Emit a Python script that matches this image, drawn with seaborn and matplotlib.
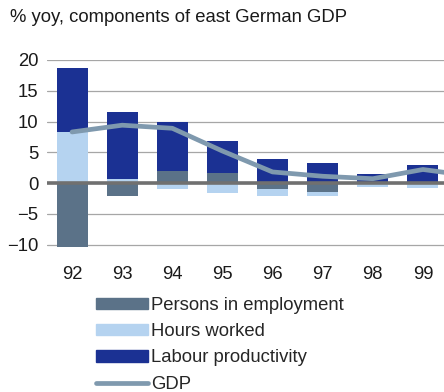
import numpy as np
import pandas as pd
import matplotlib
matplotlib.use("Agg")
import matplotlib.pyplot as plt
import seaborn as sns
from matplotlib.patches import Patch
from matplotlib.lines import Line2D

years = ["92", "93", "94", "95", "96", "97", "98", "99", "00"]
persons = [-10.4, -2.1, 2.0, 1.7, -0.9, -1.4, 0.0, 0.2, np.nan]
hours = [8.3, 0.6, -1.0, -1.6, -1.2, -0.7, -0.7, -0.8, np.nan]
productivity = [10.4, 10.9, 7.9, 5.1, 3.9, 3.2, 1.4, 2.8, np.nan]
gdp = [8.3, 9.4, 8.9, 5.2, 1.8, 1.1, 0.7, 2.2, 1.1]

labels = ["Persons in employment", "Hours worked", "Labour productivity", "GDP"]
c_persons = "#5B7288"
c_hours = "#B5D3F0"
c_prod = "#1B3193"
c_gdp = "#7F99AE"

sns.set_theme(style="white")
plt.rcParams["font.family"] = ["Liberation Sans", "DejaVu Sans"]

df = pd.DataFrame({"year": years, "p": persons, "h": hours, "lp": productivity, "gdp": gdp})
p_pos = df["p"].clip(lower=0)
p_neg = df["p"].clip(upper=0)
h_pos = df["h"].clip(lower=0)
h_neg = df["h"].clip(upper=0)
df["top_lp"] = p_pos + h_pos + df["lp"].clip(lower=0)
df["top_h"] = p_pos + h_pos
df["top_p"] = p_pos
df["bot_h"] = p_neg + h_neg
df["bot_p"] = p_neg

fs = 13.3
fig = plt.figure(figsize=(4.44, 3.92), dpi=100)
ax = fig.add_axes([47 / 444, 1 - 247.6 / 392, 1 - 47 / 444, (247.6 - 60) / 392])

w = 0.62
for col, color in [("top_lp", c_prod), ("top_h", c_hours), ("top_p", c_persons),
                   ("bot_h", c_hours), ("bot_p", c_persons)]:
    sns.barplot(data=df, x="year", y=col, order=years, color=color, width=w,
                saturation=1, ax=ax, zorder=3, linewidth=0)

ax.axhline(0, color="#707070", lw=2.6, zorder=4)
sns.lineplot(x=np.arange(len(years)), y=df["gdp"], sort=False, color=c_gdp,
             lw=3.4, ax=ax, zorder=5, solid_capstyle="round")

ax.set_xlim(-0.5, 7.42)
ax.set_ylim(-10.5, 20)
ax.set_yticks([-10, -5, 0, 5, 10, 15, 20])
ax.yaxis.grid(True, color="#A6A6A6", lw=0.9, zorder=0)
ax.set_axisbelow(True)
for s in ax.spines.values():
    s.set_visible(False)
ax.set_xlabel("")
ax.set_ylabel("")
ax.tick_params(axis="both", length=0, labelsize=fs, colors="#1a1a1a")
ax.tick_params(axis="y", pad=6)
ax.tick_params(axis="x", pad=13)

fig.text(10 / 444, 1 - 17 / 392, "% yoy, components of east German GDP",
         fontsize=fs, va="center", ha="left", color="#1a1a1a")

handles = [Patch(color=c_persons), Patch(color=c_hours), Patch(color=c_prod),
           Line2D([0], [0], color=c_gdp, lw=3.4, solid_capstyle="round")]
fig.legend(handles, labels, loc="upper left", bbox_to_anchor=(96 / 444, 1 - 297 / 392),
           frameon=False, fontsize=fs, handlelength=2.8, handleheight=0.55,
           labelspacing=0.5, handletextpad=0.2, borderaxespad=0, borderpad=0)

fig.savefig("out.png", dpi=100)
